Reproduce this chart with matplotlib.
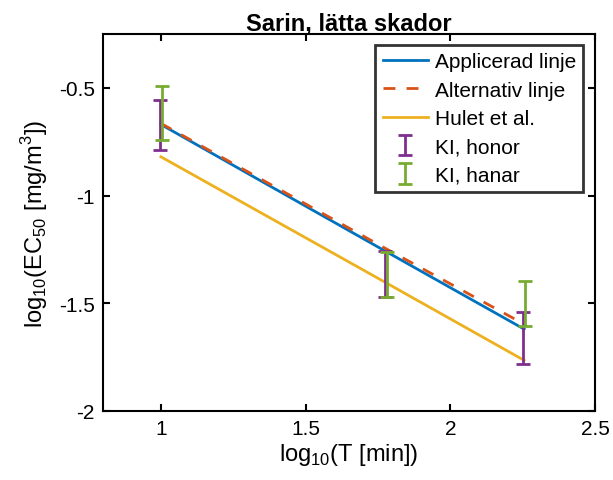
import numpy as np
import matplotlib
matplotlib.use('Agg')
import matplotlib.pyplot as plt
from matplotlib.ticker import FuncFormatter

plt.rcParams['font.family'] = ['Liberation Sans', 'DejaVu Sans']
plt.rcParams['axes.unicode_minus'] = False
plt.rcParams['mathtext.fontset'] = 'custom'
plt.rcParams['mathtext.rm'] = 'Liberation Sans'

# log10 of exposure time (10, 60, 180 min)
log_t = np.log10([10, 60, 180])

# Fitted lines
applicerad = [-0.67, -1.26, -1.62]
alternativ = [-0.665, -1.247, -1.597]
hulet = [-0.82, -1.405, -1.765]

# Confidence intervals (low, high)
honor_low = [-0.788, -1.472, -1.784]
honor_high = [-0.556, -1.258, -1.542]
hanar_low = [-0.742, -1.472, -1.607]
hanar_high = [-0.490, -1.262, -1.398]

fig = plt.figure(figsize=(6.13, 4.81), dpi=100)
ax = fig.add_axes([0.168, 0.1435, 0.8026, 0.7838])

ax.plot(log_t, applicerad, color='#0072BD', lw=2, label='Applicerad linje')
ax.plot(log_t, alternativ, color='#D95319', lw=2, ls=(0, (4.3, 4)), label='Alternativ linje')
ax.plot(log_t, hulet, color='#EDB120', lw=2, label='Hulet et al.')

# error bars drawn from their low/high ends
for low, high, col, lab, dx in [(honor_low, honor_high, '#7E2F8E', 'KI, honor', -0.004),
                                (hanar_low, hanar_high, '#77AC30', 'KI, hanar', 0.004)]:
    low = np.array(low)
    high = np.array(high)
    mid = (low + high) / 2
    ax.errorbar(log_t + dx, mid, yerr=[mid - low, high - mid], fmt='none',
                ecolor=col, elinewidth=2, capsize=5, capthick=2, label=lab)

ax.set_xlim(0.8, 2.5)
ax.set_ylim(-2, -0.25)
ax.set_xticks([1, 1.5, 2, 2.5])
ax.set_yticks([-2, -1.5, -1, -0.5])
fmt = FuncFormatter(lambda v, p: '%g' % v)
ax.xaxis.set_major_formatter(fmt)
ax.yaxis.set_major_formatter(fmt)
ax.tick_params(direction='in', top=True, right=True, labelsize=15, length=5, width=1.5, pad=6)
for s in ax.spines.values():
    s.set_linewidth(1.5)

ax.set_xlabel('log$_{10}$(T [min])', fontsize=17, labelpad=2)
ax.set_ylabel('log$_{10}$(EC$_{50}$ [mg/m$^3$])', fontsize=17, labelpad=6)
ax.set_title('Sarin, lätta skador', fontsize=17, fontweight='bold', pad=3)

leg = ax.legend(loc='upper right', fontsize=15, frameon=True, fancybox=False,
                bbox_to_anchor=(0.976, 0.971), borderaxespad=0, handlelength=2.2,
                labelspacing=0.45, borderpad=0.35, handletextpad=0.3)
leg.get_frame().set_edgecolor('black')
leg.get_frame().set_linewidth(2)

fig.savefig('out.png', dpi=100)
